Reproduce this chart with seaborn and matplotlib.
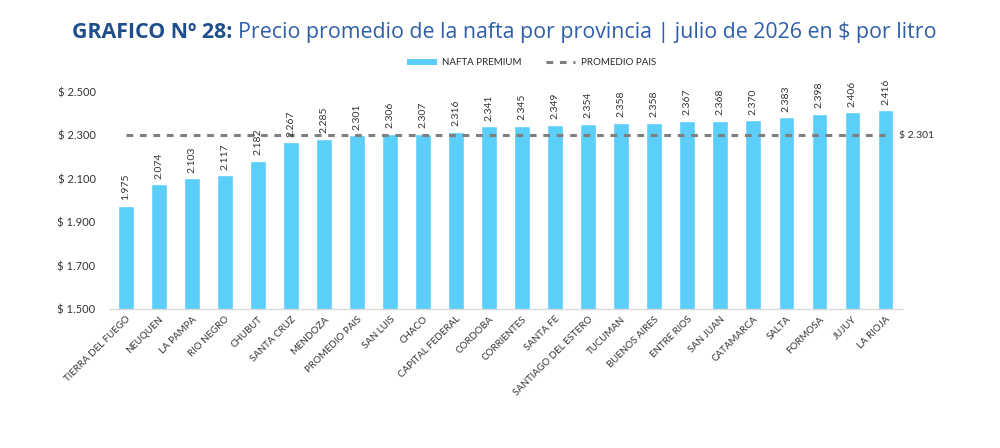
import matplotlib
matplotlib.use("Agg")
import matplotlib.pyplot as plt
import seaborn as sns
import pandas as pd
from matplotlib.patches import Patch
from matplotlib.lines import Line2D

categories = ["TIERRA DEL FUEGO", "NEUQUEN", "LA PAMPA", "RIO NEGRO", "CHUBUT",
              "SANTA CRUZ", "MENDOZA", "PROMEDIO PAIS", "SAN LUIS", "CHACO",
              "CAPITAL FEDERAL", "CORDOBA", "CORRIENTES", "SANTA FE",
              "SANTIAGO DEL ESTERO", "TUCUMAN", "BUENOS AIRES", "ENTRE RIOS",
              "SAN JUAN", "CATAMARCA", "SALTA", "FORMOSA", "JUJUY", "LA RIOJA"]
values = [1975, 2074, 2103, 2117, 2182, 2267, 2285, 2301, 2306, 2307, 2316, 2341,
          2345, 2349, 2354, 2358, 2358, 2367, 2368, 2370, 2383, 2398, 2406, 2416]
promedio = 2301
yticks = [1500, 1700, 1900, 2100, 2300, 2500]

def fmt(v):
    return f"{v:,}".replace(",", ".")

sns.set_theme(style="white")
plt.rcParams['font.family'] = ['Lato', 'DejaVu Sans']

bar_color = "#5BCEFA"
df = pd.DataFrame({"prov": categories, "precio": values})

fig = plt.figure(figsize=(10, 4.48), dpi=100)
ax = fig.add_axes([0.1095, 0.310, 0.7925, 0.485])

sns.barplot(data=df, x="prov", y="precio", color=bar_color, width=0.48,
            saturation=1, ax=ax)

n = len(categories)
ax.hlines(promedio, 0, n - 1, colors="#7f7f7f", linestyles=(0, (2.2, 2.2)),
          linewidth=2.2, zorder=3)
ax.text(n - 1 + 0.4, promedio, "$ " + fmt(promedio), va="center", ha="left",
        fontsize=7.5, color="#333333")

for i, v in enumerate(values):
    ax.annotate(fmt(v), (i, v), xytext=(0, 4), textcoords="offset points",
                rotation=90, ha="center", va="bottom", fontsize=7.5,
                color="#333333", annotation_clip=False)

ax.set_xlim(-0.5, n - 0.5)
ax.set_ylim(1500, 2500)
ax.set_yticks(yticks)
ax.set_yticklabels(["$ " + fmt(t) for t in yticks], fontsize=8, color="#333333")
ax.set_xticks(range(n))
ax.set_xticklabels(categories, rotation=45, ha="right", rotation_mode="anchor",
                   fontsize=7, color="#333333")
ax.tick_params(axis="x", length=0, pad=4)
ax.tick_params(axis="y", length=0, pad=10)
ax.set_xlabel("")
ax.set_ylabel("")
for s in ["top", "right", "left"]:
    ax.spines[s].set_visible(False)
ax.spines["bottom"].set_color("#d9d9d9")
ax.spines["bottom"].set_linewidth(1)

handles = [Patch(facecolor=bar_color, edgecolor="none"),
           Line2D([0], [0], color="#7f7f7f", linestyle=(0, (2.2, 2.2)), linewidth=2.2)]
fig.legend(handles, ["NAFTA PREMIUM", "PROMEDIO PAIS"], loc="center",
           bbox_to_anchor=(0.532, 0.86), ncol=2, frameon=False, fontsize=7,
           handlelength=3, handleheight=0.6, columnspacing=2.5, handletextpad=0.6)

t1 = fig.text(0.072, 0.928, "GRAFICO Nº 28: ", fontsize=15.4, fontweight="bold",
              color="#1F4E8C", va="center", ha="left", family=["Open Sans", "DejaVu Sans"])
fig.canvas.draw()
bb = t1.get_window_extent()
x2 = bb.x1 / fig.bbox.width
fig.text(x2, 0.928, "Precio promedio de la nafta por provincia | julio de 2026 en $ por litro",
         fontsize=15.4, color="#2E5FA8", va="center", ha="left",
         family=["Open Sans", "DejaVu Sans"])

fig.savefig("out.png", dpi=100)
